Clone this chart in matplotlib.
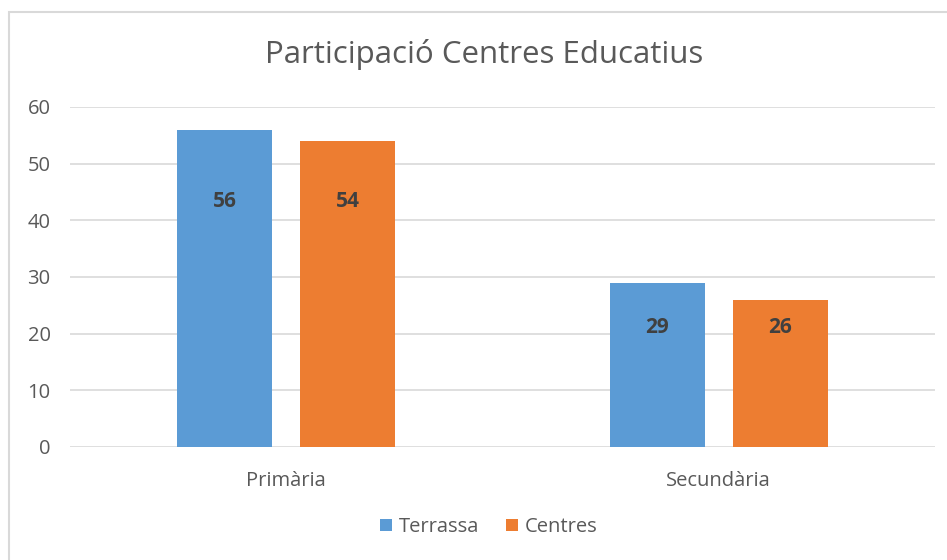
import numpy as np
import matplotlib.pyplot as plt
from matplotlib.patches import Rectangle

plt.rcParams['font.family'] = ['Open Sans', 'DejaVu Sans']

categories = ['Primària', 'Secundària']
series_names = ['Terrassa', 'Centres']
terrassa = [56, 29]
centres = [54, 26]
colors = ['#5B9BD5', '#ED7D31']

fig = plt.figure(figsize=(9.47, 5.6), dpi=100)
ax = fig.add_axes([70/947, 113/560, 865/947, 340/560])

x = np.arange(len(categories))
w = 0.44
off = 0.284
b1 = ax.bar(x - off/2, terrassa, w/2, color=colors[0], label=series_names[0], zorder=3)
b2 = ax.bar(x + off/2, centres, w/2, color=colors[1], label=series_names[1], zorder=3)

# labels sit a bit below the bar top (as in the original)
drop = [0.225, 0.27]
for bars, vals in ((b1, terrassa), (b2, centres)):
    for i, (r, v) in enumerate(zip(bars, vals)):
        ax.text(r.get_x() + r.get_width()/2, terrassa[i] * (1 - drop[i]), str(v),
                ha='center', va='center', fontsize=15, fontweight='bold',
                color='#404040', zorder=4)

ax.set_xlim(-0.5, 1.5)
ax.set_ylim(0, 60)
ax.set_yticks(range(0, 61, 10))
ax.set_xticks(x)
ax.set_xticklabels(categories)
ax.yaxis.grid(True, color='#D9D9D9', linewidth=1.2, zorder=0)
for s in ax.spines.values():
    s.set_visible(False)
ax.tick_params(axis='both', length=0, colors='#595959', labelsize=14.5)
ax.tick_params(axis='y', pad=14)
ax.tick_params(axis='x', pad=17)
ax.set_axisbelow(True)

fig.text(484/947, 1 - 54/560, 'Participació Centres Educatius', ha='center', va='center',
         fontsize=22.5, color='#595959')

leg = fig.legend(loc='center', bbox_to_anchor=(489/947, 1 - 527/560), ncol=2,
                 frameon=False, fontsize=14.5, handlelength=0.6, handleheight=0.6,
                 handletextpad=0.35, columnspacing=1.3)
for t in leg.get_texts():
    t.set_color('#595959')

fig.patches.append(Rectangle((9/947, -0.1), 1.2, 1 - 12/560 + 0.1, transform=fig.transFigure,
                             fill=False, edgecolor='#D9D9D9', linewidth=1.5))

fig.savefig('out.png', dpi=100)
